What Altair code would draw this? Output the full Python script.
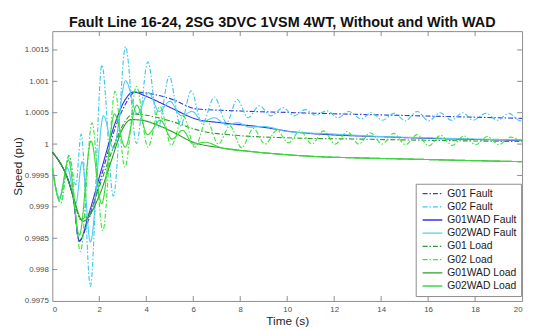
import altair as alt
import pandas as pd

names = ["G01 Fault", "G02 Fault", "G01WAD Fault", "G02WAD Fault",
         "G01 Load", "G02 Load", "G01WAD Load", "G02WAD Load"]
colors = ["#3a3ad8", "#3cc8ec", "#3434e0", "#52cdf2",
          "#2f9a2f", "#3ce63c", "#2c9e2c", "#3ada3a"]
dashes = [[5, 2, 1.5, 2], [5, 2, 1.5, 2], [1, 0], [1, 0],
          [5, 2, 1.5, 2], [5, 2, 1.5, 2], [1, 0], [1, 0]]

x_ticks = [0, 2, 4, 6, 8, 10, 12, 14, 16, 18, 20]
y_ticks = [0.9975, 0.998, 0.9985, 0.999, 0.9995, 1.0, 1.0005, 1.001, 1.0015]

# G01 Fault (blue dash-dot)
g01f_t = [0, 0.3, 0.6, 0.9, 1.13, 1.55, 2.11, 2.67, 3.09, 3.55, 4.2, 5.05, 6.16, 7.8, 10.36, 14.55, 20]
g01f_v = [0.99987, 0.99972, 0.9995, 0.99912, 0.99846, 0.9988, 0.99952, 1.00025, 1.00062, 1.00083,
          1.0008, 1.00072, 1.00056, 1.00053, 1.0005, 1.00046, 1.00041]

# G02 Fault (cyan dash-dot)
g02f_t = [0, 0.36, 0.71, 1.0, 1.23, 1.62, 2.11, 2.6, 3.12, 3.58, 4.07, 4.51, 4.98, 5.46, 5.91, 6.38,
          6.9, 7.42, 7.87, 8.33, 8.82, 9.31, 9.82, 10.29, 10.78, 11.19, 11.69, 12.17, 12.62, 13.15,
          13.57, 14.06, 14.55, 15.04, 15.53, 16.02, 16.51, 16.99, 17.48, 17.9, 18.46, 18.95, 19.44,
          19.93, 20]
g02f_v = [0.99964, 0.99906, 0.99982, 0.99935, 1.00016, 0.99773, 1.00126, 0.99917, 1.00155, 1.00001,
          1.00131, 1.00027, 1.00108, 1.00029, 1.00085, 1.00032, 1.00075, 1.00034, 1.00071, 1.00042,
          1.00061, 1.00045, 1.00058, 1.00045, 1.00055, 1.00046, 1.00053, 1.00042, 1.00052, 1.0004,
          1.0005, 1.00038, 1.00049, 1.00037, 1.00052, 1.00037, 1.0005, 1.00038, 1.0005, 1.00038,
          1.00049, 1.00038, 1.00049, 1.00037, 1.00038]

# G01WAD Fault (blue solid)
g01wf_t = [0, 0.3, 0.6, 0.9, 1.15, 1.55, 2.11, 2.67, 3.09, 3.45, 4.0, 5.04, 6.2, 7.2, 8.96, 10.36, 14.55, 20]
g01wf_v = [0.99987, 0.99972, 0.9995, 0.99912, 0.99845, 0.99888, 0.99962, 1.00033, 1.0007, 1.00083,
           1.00076, 1.00058, 1.00039, 1.00034, 1.00027, 1.00019, 1.00011, 1.00006]

# G02WAD Fault (light cyan solid)
g02wf_t = [0, 0.3, 0.64, 1.0, 1.27, 1.62, 2.18, 2.6, 3.12, 3.62, 4.1, 4.55, 5.0, 5.5, 5.95, 6.4,
           6.9, 7.4, 7.9, 8.4, 9.0, 10, 12, 14, 16, 18, 20]
g02wf_v = [0.99964, 0.99915, 0.99962, 0.99905, 0.99972, 0.99844, 1.00045, 0.99993, 1.00101, 1.00048,
           1.00082, 1.00052, 1.00068, 1.00045, 1.00052, 1.00036, 1.00042, 1.00031, 1.00034, 1.00027,
           1.00028, 1.0002, 1.00016, 1.00012, 1.0001, 1.00008, 1.00007]

# G01 Load (dark green dash-dot)
g01l_t = [0, 0.3, 0.6, 0.9, 1.2, 1.5, 2.0, 2.5, 3.0, 3.45, 4.0, 5.0, 6.44, 7.8, 10, 13, 16, 20]
g01l_v = [0.99987, 0.99972, 0.9995, 0.99915, 0.9988, 0.99885, 0.99932, 0.99985, 1.0003, 1.00048,
          1.00046, 1.00037, 1.0002, 1.00014, 1.0001, 1.00008, 1.00006, 1.00004]

# G02 Load (bright green dash-dot)
g02l_t = [0, 0.36, 0.71, 1.2, 1.69, 2.15, 2.67, 3.09, 3.58, 4.07, 4.58, 5.07, 5.57, 6.07, 6.57,
          7.07, 7.56, 8.06, 8.56, 9.06, 9.56, 10.05, 10.55, 11.05, 11.55, 12.05, 12.55, 13.05, 13.54,
          14.04, 14.54, 15.04, 15.53, 16.03, 16.53, 17.03, 17.52, 18.02, 18.52, 19.01, 19.51, 20]
g02l_v = [0.99964, 0.99906, 0.99982, 0.99829, 1.00034, 0.99862, 1.00084, 0.99963, 1.00092, 0.99995,
          1.0006, 0.99998, 1.00045, 0.99995, 1.00038, 1.0, 1.00029, 0.99994, 1.00025, 1.0, 1.00022,
          1.00002, 1.00021, 1.0, 1.00021, 1.0, 1.0002, 1.0, 1.00018, 1.0, 1.00017, 0.99999, 1.00015,
          0.99997, 1.00014, 0.99998, 1.00013, 0.99999, 1.00012, 0.99999, 1.00011, 1.00004]

# G01WAD Load (green solid)
g01wl_t = [0, 0.3, 0.6, 0.9, 1.3, 2.0, 2.5, 3.0, 3.35, 3.8, 4.5, 5.04, 6.0, 7.21, 8.5, 10, 11.3, 13, 15.3, 17.5, 20]
g01wl_v = [0.99987, 0.99972, 0.9995, 0.99915, 0.99877, 0.99918, 0.99972, 1.00025, 1.00039, 1.00038,
           1.0003, 1.00021, 1.00003, 0.99994, 0.99988, 0.99983, 0.9998, 0.99978, 0.99976, 0.99974, 0.99972]

# G02WAD Load (bright green solid)
g02wl_t = [0, 0.3, 0.68, 1.15, 1.65, 2.1, 2.65, 3.1, 3.6, 4.05, 4.6, 5.1, 5.55, 6.0, 6.5, 7.21,
           8.5, 10, 11.3, 13, 15.3, 17.5, 20]
g02wl_v = [0.99962, 0.99912, 0.99975, 0.99855, 1.00005, 0.99905, 1.00048, 0.99995, 1.00062, 1.00015,
           1.00038, 1.00008, 1.00022, 1.0, 1.00003, 0.99994, 0.99988, 0.99983, 0.9998, 0.99978,
           0.99976, 0.99974, 0.99972]

series_t = [g01f_t, g02f_t, g01wf_t, g02wf_t, g01l_t, g02l_t, g01wl_t, g02wl_t]
series_v = [g01f_v, g02f_v, g01wf_v, g02wf_v, g01l_v, g02l_v, g01wl_v, g02wl_v]

rows = []
for i, (nm, ts, vs) in enumerate(zip(names, series_t, series_v)):
    for t, v in zip(ts, vs):
        rows.append({"series": nm, "idx": i, "t": t, "v": v})
df = pd.DataFrame(rows)

W, H = 477, 274
font = "Liberation Sans"

xscale = alt.Scale(domain=[0, 20], nice=False)
yscale = alt.Scale(domain=[0.9975, 1.0018], nice=False, zero=False)

x_axis = alt.Axis(values=x_ticks, title="Time (s)", ticks=False, domain=False, grid=False,
                  labelPadding=5, labelFontSize=8, labelColor="#4d4d4d", labelFont=font,
                  labelOverlap=False, titleFont=font, titleFontSize=12, titleFontWeight="normal",
                  titleColor="#262626", titlePadding=2)
y_axis = alt.Axis(values=y_ticks, format="~g", title="Speed (pu)", ticks=False, domain=False,
                  grid=False, labelPadding=4, labelFontSize=8, labelColor="#4d4d4d",
                  labelFont=font, labelOverlap=False, titleFont=font, titleFontSize=12,
                  titleFontWeight="normal", titleColor="#262626", titlePadding=0)

lines = alt.Chart(df).mark_line(interpolate="monotone", strokeWidth=1.15, clip=True).encode(
    x=alt.X("t:Q", scale=xscale, axis=x_axis),
    y=alt.Y("v:Q", scale=yscale, axis=y_axis),
    color=alt.Color("series:N", scale=alt.Scale(domain=names, range=colors), title=None),
    strokeDash=alt.StrokeDash("series:N", scale=alt.Scale(domain=names, range=dashes), title=None),
    order=alt.Order("idx:Q"),
)

xt = pd.DataFrame({"t": x_ticks[1:-1]})
yt = pd.DataFrame({"v": y_ticks[1:]})
tick_color = "#8c8c8c"
xb = alt.Chart(xt).mark_rule(color=tick_color, strokeWidth=1).encode(
    x=alt.X("t:Q", scale=xscale, axis=x_axis), y=alt.value(H), y2=alt.value(H - 5))
xtop = alt.Chart(xt).mark_rule(color=tick_color, strokeWidth=1).encode(
    x=alt.X("t:Q", scale=xscale, axis=x_axis), y=alt.value(0), y2=alt.value(5))
yl = alt.Chart(yt).mark_rule(color=tick_color, strokeWidth=1).encode(
    y=alt.Y("v:Q", scale=yscale, axis=y_axis), x=alt.value(0), x2=alt.value(5))
yr = alt.Chart(yt).mark_rule(color=tick_color, strokeWidth=1).encode(
    y=alt.Y("v:Q", scale=yscale, axis=y_axis), x=alt.value(W), x2=alt.value(W - 5))

chart = alt.layer(lines, xb, xtop, yl, yr).properties(
    width=W, height=H,
    title=alt.TitleParams("Fault Line 16-24, 2SG 3DVC 1VSM 4WT, Without and With WAD",
                          font=font, fontSize=14.6, fontWeight="bold", color="#111111",
                          anchor="middle", offset=1, dx=-5),
    autosize=alt.AutoSizeParams(type="none"),
    padding={"left": 45, "top": 21, "right": 5, "bottom": 27},
).configure_axis(labelOverlap=False).configure_view(stroke="#8c8c8c", strokeWidth=1).configure_legend(
    orient="none", legendX=369, legendY=155, fillColor="white", strokeColor="#8c8c8c",
    padding=4, labelFont=font, labelFontSize=10.5, labelColor="#1a1a1a",
    symbolType="M-0.6,0H3.4", symbolSize=100, symbolStrokeWidth=1.3, labelOffset=16,
    rowPadding=1.4, cornerRadius=0,
)

chart.save("out.html", embed_options={"renderer": "svg", "actions": False})
